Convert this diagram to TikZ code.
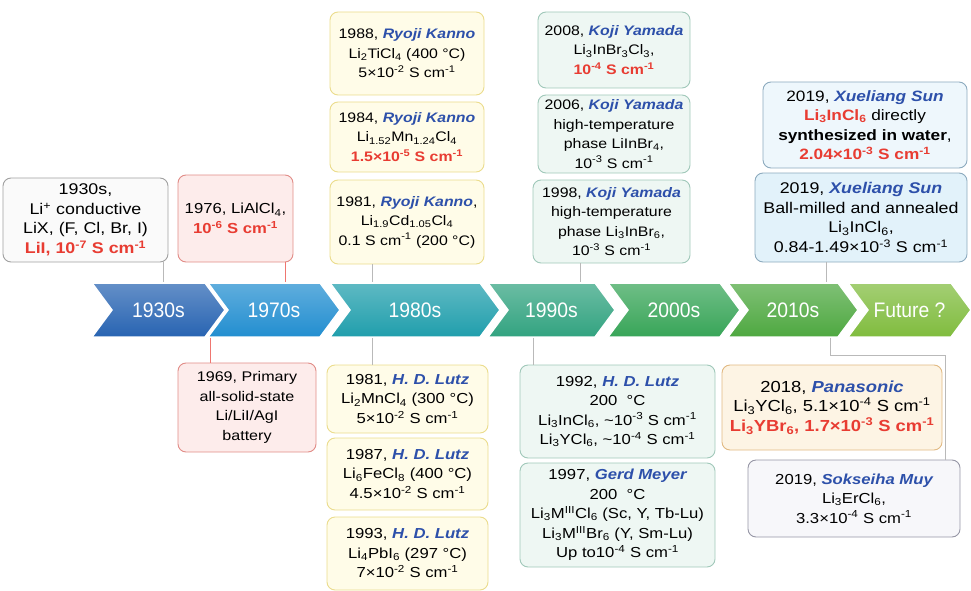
\documentclass[tikz,border=0pt]{standalone}
\usepackage{fontspec}
\setmainfont{Liberation Sans}[FakeStretch=1.15]
\newfontfamily\chevfont{Liberation Sans}[FakeStretch=0.92]
\usetikzlibrary{shapes.symbols}

\definecolor{c30}{RGB}{40,100,178}
\definecolor{c70}{RGB}{34,142,208}
\definecolor{c80}{RGB}{32,158,172}
\definecolor{c90}{RGB}{50,163,128}
\definecolor{c00}{RGB}{56,165,88}
\definecolor{c10}{RGB}{78,168,64}
\definecolor{cfu}{RGB}{128,188,62}
\definecolor{nameblue}{RGB}{45,80,170}
\definecolor{hired}{RGB}{232,60,50}
\definecolor{greyline}{RGB}{160,160,160}
\definecolor{greyfill}{RGB}{250,250,250}
\definecolor{pinkline}{RGB}{225,140,135}
\definecolor{pinkfill}{RGB}{253,236,235}
\definecolor{yelline}{RGB}{235,220,140}
\definecolor{yelfill}{RGB}{255,252,232}
\definecolor{mintline}{RGB}{160,200,185}
\definecolor{mintfill}{RGB}{238,247,243}
\definecolor{skyline}{RGB}{140,170,190}
\definecolor{skyfill}{RGB}{226,242,250}
\definecolor{orline}{RGB}{225,185,130}
\definecolor{orfill}{RGB}{253,244,228}
\definecolor{lilline}{RGB}{150,150,165}
\definecolor{lilfill}{RGB}{247,247,250}

\newcommand{\who}[1]{\textcolor{nameblue}{\bfseries\itshape #1}}
\newcommand{\redtxt}[1]{\textcolor{hired}{\bfseries #1}}

\begin{document}
\begin{tikzpicture}[x=1pt,y=-1pt,
  chev/.style={signal, signal from=west, signal to=east, signal pointer angle=107,
    minimum height=54, inner sep=0pt, draw=white, line width=1.5pt,
    top color=#1!72!white, bottom color=#1, text=white,
    font={\chevfont\fontsize{21}{24}\selectfont}},
  card/.style={rounded corners=8, line width=0.9pt, align=center, inner sep=2pt,
    font=\fontsize{14.5}{19.5}\selectfont},
  greycard/.style={card, draw=greyline, fill=greyfill},
  pinkcard/.style={card, draw=pinkline, fill=pinkfill},
  yelcard/.style={card, draw=yelline, fill=yelfill},
  mintcard/.style={card, draw=mintline, fill=mintfill},
  skycard/.style={card, draw=skyline, fill=skyfill},
  orcard/.style={card, draw=orline, fill=orfill},
  lilcard/.style={card, draw=lilline, fill=lilfill},
  smallfont/.style={font=\fontsize{13.8}{19.5}\selectfont},
  linkgray/.style={draw=gray!55, line width=0.7pt},
  linkred/.style={draw=hired!70, line width=0.7pt}]
\useasboundingbox (0,0) rectangle (971,591);

% timeline
\node[chev=c30, minimum width=133] (c1930) at (158.5,310) {1930s};
\node[chev=c70, minimum width=132] (c1970) at (274,310) {1970s};
\node[chev=c80, minimum width=170] (c1980) at (415,310) {1980s};
\node[chev=c90, minimum width=127] (c1990) at (551.5,310) {1990s};
\node[chev=c00, minimum width=132] (c2000) at (674,310) {2000s};
\node[chev=c10, minimum width=130] (c2010) at (793,310) {2010s};
\node[chev=cfu, minimum width=123] (cfut) at (909.5,310) {Future ?};

% above the line
\node[greycard, minimum width=165, minimum height=84, font=\fontsize{15.5}{19.5}\selectfont] (b1930) at (85.5,220)
  {1930s,\\Li\textsuperscript{+} conductive\\LiX, (F, Cl, Br, I)\\\redtxt{LiI, 10\textsuperscript{-7} S cm\textsuperscript{-1}}};
\node[pinkcard, minimum width=115, minimum height=87] (b1976) at (235.5,218.5)
  {1976, LiAlCl\textsubscript{4},\\\redtxt{10\textsuperscript{-6} S cm\textsuperscript{-1}}};
\node[yelcard, smallfont, minimum width=154, minimum height=83] (k1988) at (407,53.5)
  {1988, \who{Ryoji Kanno}\\Li\textsubscript{2}TiCl\textsubscript{4} (400 °C)\\5×10\textsuperscript{-2} S cm\textsuperscript{-1}};
\node[yelcard, smallfont, minimum width=154, minimum height=70] (k1984) at (407,137)
  {1984, \who{Ryoji Kanno}\\Li\textsubscript{1.52}Mn\textsubscript{1.24}Cl\textsubscript{4}\\\redtxt{1.5×10\textsuperscript{-5} S cm\textsuperscript{-1}}};
\node[yelcard, smallfont, minimum width=154, minimum height=84] (k1981) at (407,222)
  {1981, \who{Ryoji Kanno},\\Li\textsubscript{1.9}Cd\textsubscript{1.05}Cl\textsubscript{4}\\0.1 S cm\textsuperscript{-1} (200 °C)};
\node[mintcard, smallfont, minimum width=152, minimum height=76] (y2008) at (614,50)
  {2008, \who{Koji Yamada}\\Li\textsubscript{3}InBr\textsubscript{3}Cl\textsubscript{3},\\\redtxt{10\textsuperscript{-4} S cm\textsuperscript{-1}}};
\node[mintcard, smallfont, minimum width=152, minimum height=78] (y2006) at (614,134)
  {2006, \who{Koji Yamada}\\high-temperature\\phase LiInBr\textsubscript{4},\\10\textsuperscript{-3} S cm\textsuperscript{-1}};
\node[mintcard, smallfont, minimum width=157, minimum height=83] (y1998) at (611.5,221.5)
  {1998, \who{Koji Yamada}\\high-temperature\\phase Li\textsubscript{3}InBr\textsubscript{6},\\10\textsuperscript{-3} S cm\textsuperscript{-1}};
\node[skycard, fill=skyfill!60, minimum width=204, minimum height=86, font=\fontsize{15}{19.5}\selectfont] (s2019a) at (865,125)
  {2019, \who{Xueliang Sun}\\\redtxt{Li\textsubscript{3}InCl\textsubscript{6}} directly\\\textbf{synthesized in water},\\\redtxt{2.04×10\textsuperscript{-3} S cm\textsuperscript{-1}}};
\node[skycard, minimum width=212, minimum height=89, font=\fontsize{15.5}{19.5}\selectfont] (s2019b) at (861,217.5)
  {2019, \who{Xueliang Sun}\\Ball-milled and annealed\\Li\textsubscript{3}InCl\textsubscript{6},\\0.84-1.49×10\textsuperscript{-3} S cm\textsuperscript{-1}};

% below the line
\node[pinkcard, minimum width=138, minimum height=89, font=\fontsize{14}{19.5}\selectfont] (b1969) at (247,407.5)
  {1969, Primary\\all-solid-state\\Li/LiI/AgI\\battery};
\node[yelcard, minimum width=161, minimum height=68] (l1981) at (407.5,399)
  {1981, \who{H. D. Lutz}\\Li\textsubscript{2}MnCl\textsubscript{4} (300 °C)\\5×10\textsuperscript{-2} S cm\textsuperscript{-1}};
\node[yelcard, minimum width=161, minimum height=72] (l1987) at (407.5,474)
  {1987, \who{H. D. Lutz}\\Li\textsubscript{6}FeCl\textsubscript{8} (400 °C)\\4.5×10\textsuperscript{-2} S cm\textsuperscript{-1}};
\node[yelcard, minimum width=161, minimum height=73] (l1993) at (407.5,553.5)
  {1993, \who{H. D. Lutz}\\Li\textsubscript{4}PbI\textsubscript{6} (297 °C)\\7×10\textsuperscript{-2} S cm\textsuperscript{-1}};
\node[mintcard, minimum width=195, minimum height=93] (l1992) at (617.5,411.5)
  {1992, \who{H. D. Lutz}\\200\ \ °C\\Li\textsubscript{3}InCl\textsubscript{6}, \textasciitilde10\textsuperscript{-3} S cm\textsuperscript{-1}\\Li\textsubscript{3}YCl\textsubscript{6}, \textasciitilde10\textsuperscript{-4} S cm\textsuperscript{-1}};
\node[mintcard, minimum width=195, minimum height=104] (m1997) at (617.5,515)
  {1997, \who{Gerd Meyer}\\200\ \ °C\\Li\textsubscript{3}M\textsuperscript{III}Cl\textsubscript{6} (Sc, Y, Tb-Lu)\\Li\textsubscript{3}M\textsuperscript{III}Br\textsubscript{6} (Y, Sm-Lu)\\Up to10\textsuperscript{-4} S cm\textsuperscript{-1}};
\node[orcard, minimum width=220, minimum height=85, font=\fontsize{16}{19.5}\selectfont] (p2018) at (832,407.5)
  {2018, \who{Panasonic}\\Li\textsubscript{3}YCl\textsubscript{6}, 5.1×10\textsuperscript{-4} S cm\textsuperscript{-1}\\\redtxt{Li\textsubscript{3}YBr\textsubscript{6}, 1.7×10\textsuperscript{-3} S cm\textsuperscript{-1}}};
\node[lilcard, minimum width=212, minimum height=77] (m2019) at (854,498.5)
  {2019, \who{Sokseiha Muy}\\Li\textsubscript{3}ErCl\textsubscript{6},\\3.3×10\textsuperscript{-4} S cm\textsuperscript{-1}};

% links up
\coordinate (t30) at ([xshift=4.5]c1930.north);
\coordinate (t70) at ([xshift=11]c1970.north);
\coordinate (t80) at ([xshift=-43]c1980.north);
\coordinate (t90) at ([xshift=28.5]c1990.north);
\coordinate (t10) at ([xshift=33]c2010.north);
\draw[linkgray] (b1930.south -| t30) -- (t30);
\draw[linkred] (b1976.south -| t70) -- (t70);
\draw[linkgray] (k1981.south -| t80) -- (t80);
\draw[linkgray] (y1998.south -| t90) -- (t90);
\draw[linkgray] (s2019b.south -| t10) -- (t10);

% links down
\coordinate (u70) at ([xshift=-64]c1970.south);
\coordinate (u80) at ([xshift=-43]c1980.south);
\coordinate (u90) at ([xshift=-18.5]c1990.south);
\coordinate (u10) at ([xshift=37]c2010.south);
\coordinate (bend) at (945,355);
\draw[linkred] (u70) -- (u70 |- b1969.north);
\draw[linkgray] (u80) -- (u80 |- l1981.north);
\draw[linkgray] (u90) -- (u90 |- l1992.north);
\draw[linkgray] (u10) |- (bend) -- (bend |- m2019.north);
\end{tikzpicture}
\end{document}
